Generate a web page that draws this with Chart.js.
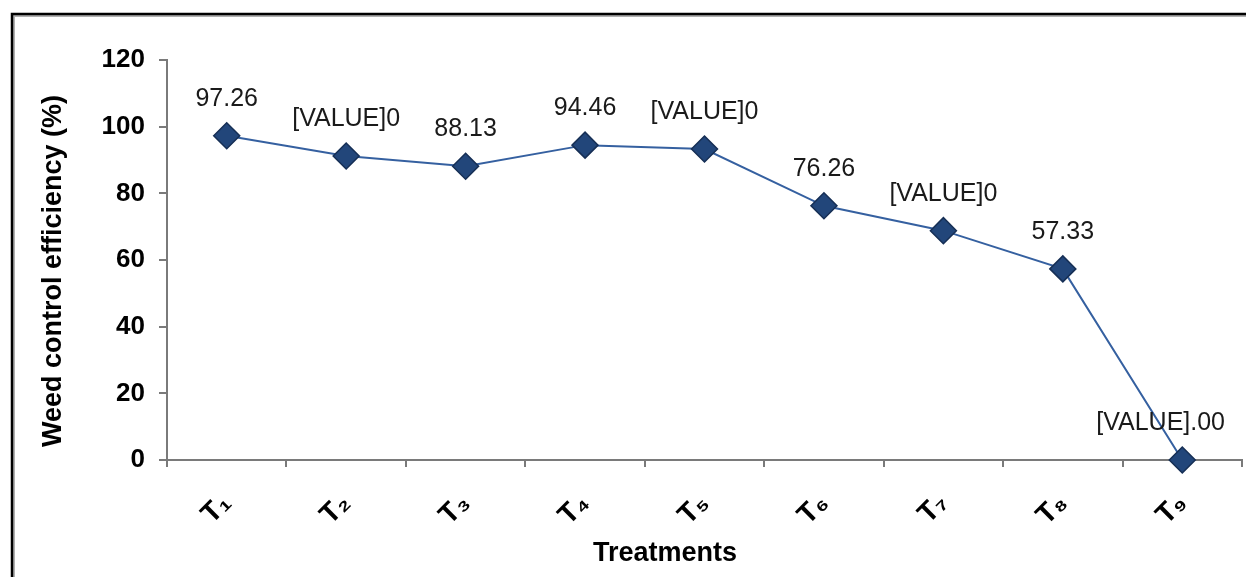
<!DOCTYPE html>
<html>
<head>
<meta charset="utf-8">
<title>Weed control efficiency</title>
<script src="https://cdn.jsdelivr.net/npm/chart.js"></script>
<style>
  html, body { margin: 0; padding: 0; background: #fff; }
  #wrap { position: relative; width: 1246px; height: 577px; }
</style>
</head>
<body>
<div id="wrap"><canvas id="chart"></canvas></div>
<script>
// data
const treatments = ['T\u2081', 'T\u2082', 'T\u2083', 'T\u2084', 'T\u2085', 'T\u2086', 'T\u2087', 'T\u2088', 'T\u2089'];
const efficiency = [97.26, 91.2, 88.13, 94.46, 93.3, 76.26, 68.8, 57.33, 0];
const pointLabels = ['97.26', '[VALUE]0', '88.13', '94.46', '[VALUE]0', '76.26', '[VALUE]0', '57.33', '[VALUE].00'];
const yTicks = [0, 20, 40, 60, 80, 100, 120];

const FONT = 'Arial, "Liberation Sans", sans-serif';

// outer frame (left + top edge only, like the cropped source)
const framePlugin = {
  id: 'frame',
  beforeDraw(chart) {
    const ctx = chart.ctx;
    ctx.save();
    ctx.strokeStyle = '#b0b0b0';
    ctx.lineWidth = 2;
    ctx.beginPath();
    ctx.moveTo(14, chart.height);
    ctx.lineTo(14, 16);
    ctx.lineTo(chart.width, 16);
    ctx.stroke();
    ctx.strokeStyle = '#000';
    ctx.lineWidth = 2.5;
    ctx.beginPath();
    ctx.moveTo(12, chart.height);
    ctx.lineTo(12, 14);
    ctx.lineTo(chart.width, 14);
    ctx.stroke();
    ctx.restore();
  }
};

// value labels above each point + axis titles
const labelPlugin = {
  id: 'valueLabels',
  afterDraw(chart) {
    const ctx = chart.ctx;
    const meta = chart.getDatasetMeta(0);
    ctx.save();
    ctx.font = '25px ' + FONT;
    ctx.fillStyle = '#1a1a1a';
    ctx.textAlign = 'center';
    ctx.textBaseline = 'alphabetic';
    meta.data.forEach((pt, i) => {
      const txt = pointLabels[i];
      const w = ctx.measureText(txt).width;
      let x = pt.x;
      if (x + w / 2 > chart.width - 21) x = chart.width - 21 - w / 2;
      ctx.fillText(txt, x, pt.y - 30);
    });
    ctx.font = 'bold 27px ' + FONT;
    ctx.fillStyle = '#000';
    ctx.fillText('Treatments', 665, 561);
    ctx.translate(61, 271);
    ctx.rotate(-Math.PI / 2);
    ctx.fillText('Weed control efficiency (%)', 0, 0);
    ctx.restore();
  }
};

new Chart(document.getElementById('chart'), {
  type: 'line',
  data: {
    labels: treatments,
    datasets: [{
      data: efficiency,
      borderColor: '#3560a0',
      borderWidth: 2,
      pointStyle: 'rectRot',
      pointRadius: 13,
      pointHoverRadius: 13,
      pointBackgroundColor: '#22467a',
      pointBorderColor: '#162f55',
      pointBorderWidth: 1.5,
      tension: 0,
      clip: false
    }]
  },
  options: {
    responsive: true,
    maintainAspectRatio: false,
    animation: false,
    layout: { autoPadding: false, padding: { left: 0, right: 4, top: 60, bottom: 0 } },
    plugins: {
      legend: { display: false },
      tooltip: { enabled: false }
    },
    scales: {
      x: {
        offset: true,
        grid: { offset: true, drawOnChartArea: false, drawTicks: true, tickLength: 7, color: '#7a7a7a', lineWidth: 2 },
        border: { display: true, color: '#7a7a7a', width: 2 },
        ticks: {
          autoSkip: false,
          minRotation: 45,
          maxRotation: 45,
          padding: 20,
          color: '#000',
          font: { family: FONT, size: 28, weight: 'bold' }
        },
        afterFit(scale) {
          scale.height = 117;
          scale.paddingRight = 0;
        }
      },
      y: {
        min: 0,
        max: 120,
        afterBuildTicks(scale) { scale.ticks = yTicks.map(v => ({ value: v })); },
        grid: { drawOnChartArea: false, drawTicks: true, tickLength: 8, color: '#7a7a7a', lineWidth: 2 },
        border: { display: true, color: '#7a7a7a', width: 2 },
        ticks: {
          padding: 14,
          color: '#000',
          font: { family: FONT, size: 26, weight: 'bold' }
        },
        afterFit(scale) { scale.width = 167; }
      }
    }
  },
  plugins: [framePlugin, labelPlugin]
});
</script>
</body>
</html>
